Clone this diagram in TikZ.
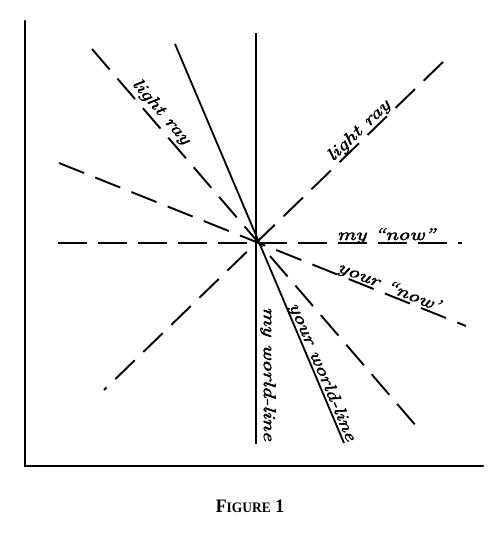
\documentclass[tikz,border=0pt]{standalone}
\usepackage{fontspec}
\usepackage{graphicx}
\newfontfamily\capfont{Liberation Serif}
\newfontfamily\handfont[Ligatures=TeX,ItalicFeatures={FakeBold=2.5}]{Latin Modern Roman}
\newcommand{\hw}[1]{\scalebox{1.35}[1]{\fontsize{17}{17}\selectfont\handfont\itshape #1}}
\begin{document}
\begin{tikzpicture}[x=1pt,y=-1pt,
  axisline/.style={line width=2.6pt,line cap=round},
  solidline/.style={line width=1.8pt},
  dashline/.style={line width=1.9pt,dash pattern=on 27pt off 12pt},
  lbl/.style={inner sep=0pt,anchor=center}]
\useasboundingbox (0,0) rectangle (500,538);
% axes
\coordinate (ytop) at (25,21);
\coordinate (orig) at (25,466);
\coordinate (xend) at (483,466);
\draw[axisline] (ytop) -- (orig) -- (xend);
% event
\coordinate (O) at (256,243);
% end points
\coordinate (myN) at (256,33);
\coordinate (myS) at (256,444);
\coordinate (yoN) at (175,44);
\coordinate (yoS) at (344,443);
\coordinate (lrNE) at (443,62);
\coordinate (lrSW) at (104,390);
\coordinate (lrNW) at (92,49);
\coordinate (lrSE) at (417,427);
\coordinate (mnW) at (58,243);
\coordinate (mnE) at (462,243);
\coordinate (ynW) at (59,163);
\coordinate (ynE) at (466,326);
% world-lines
\draw[solidline] (myN) -- (myS);
\draw[solidline] (yoN) -- (yoS);
% light rays
\draw[dashline] (lrNE) -- (lrSW);
\draw[dashline] (lrNW) -- (lrSE);
% nows
\draw[dashline,dash pattern=on 29pt off 11pt] (mnW) -- (mnE);
\draw[dashline] (ynW) -- (ynE);
% labels
\node[lbl,rotate=-49.3] (tLR1) at (161,112) {\hw{light ray}};
\node[lbl,rotate=44] (tLR2) at (359,131) {\hw{light ray}};
\node[inner sep=0pt,anchor=base] (tMN) at (386,240) {\hw{my “now”}};
\node[inner sep=0pt,anchor=base,rotate=-21.8] (tYN) at (387,291) {\hw{your “now’}};
\node[lbl,rotate=-90] (tMW) at (268,374) {\hw{my world-line}};
\node[lbl,rotate=-67.1] (tYW) at (322,372) {\hw{your world-line}};
% caption
\node[inner sep=0pt] (cap) at (250,506) {\scalebox{0.93}[1]{\capfont\bfseries\fontsize{19}{19}\selectfont F\fontsize{14.5}{14.5}\selectfont IGURE\fontsize{19}{19}\selectfont\ 1}};
\end{tikzpicture}
\end{document}
